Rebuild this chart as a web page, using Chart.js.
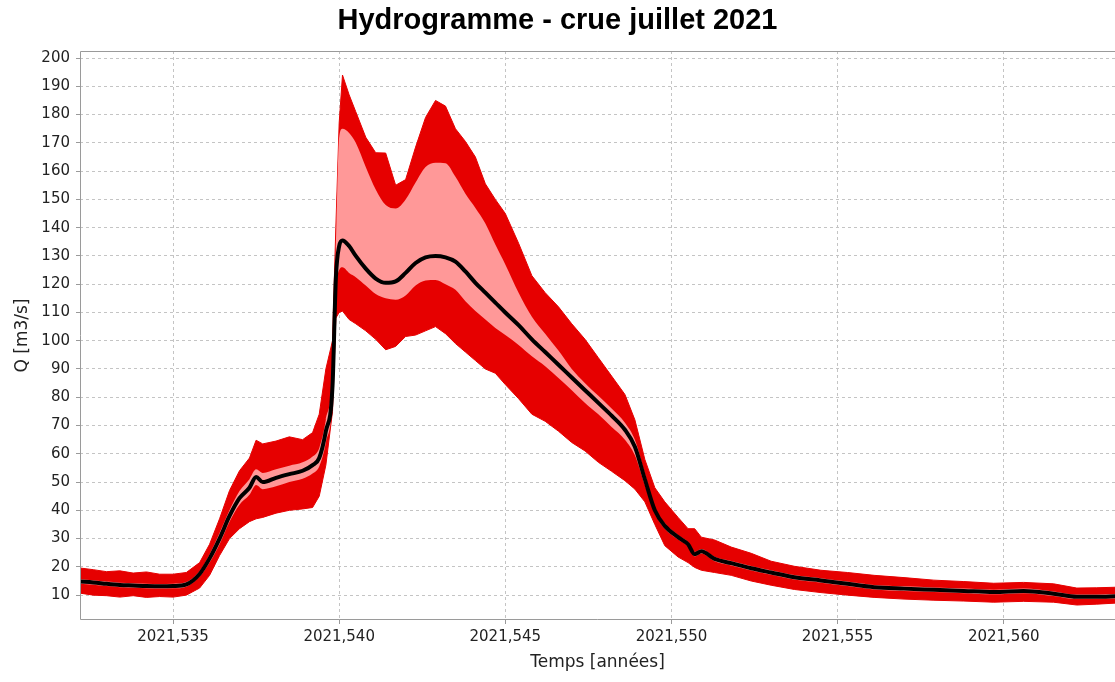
<!DOCTYPE html>
<html>
<head>
<meta charset="utf-8">
<script src="https://cdn.jsdelivr.net/npm/chart.js@4.4.1/dist/chart.umd.min.js"></script>
<style>
  html, body { margin: 0; padding: 0; background: #fff; }
  #wrap { width: 1115px; height: 682px; }
</style>
</head>
<body>
<div id="wrap"><canvas id="hydro" width="1115" height="682"></canvas></div>
<script>
// temps en années décimales
const temps = [
  2021.5322, 2021.5326, 2021.5330, 2021.5334, 2021.5338, 2021.5342, 2021.5346, 2021.5350, 2021.5354, 2021.5358,
  2021.5361, 2021.5364, 2021.5367, 2021.5370, 2021.5373, 2021.5375, 2021.5377, 2021.5381, 2021.5385, 2021.5389,
  2021.5392, 2021.5394, 2021.5396, 2021.5398, 2021.5399, 2021.5400, 2021.5401, 2021.5403, 2021.5405, 2021.5408,
  2021.5411, 2021.5414, 2021.5417, 2021.5420, 2021.5423, 2021.5426, 2021.5429, 2021.5432, 2021.5435, 2021.5438,
  2021.5441, 2021.5444, 2021.5447, 2021.5450, 2021.5454, 2021.5458, 2021.5462, 2021.5466, 2021.5470, 2021.5474,
  2021.5478, 2021.5482, 2021.5486, 2021.5489, 2021.5492, 2021.5495, 2021.5498, 2021.5502, 2021.5505, 2021.5507,
  2021.5509, 2021.5513, 2021.5518, 2021.5524, 2021.5530, 2021.5537, 2021.5545, 2021.5553, 2021.5561, 2021.5570,
  2021.5579, 2021.5588, 2021.5597, 2021.5606, 2021.5615, 2021.5622, 2021.5628, 2021.5634
];

// débit médian (ligne noire)
const qMediane = [
  14.8, 14.5, 14.0, 13.6, 13.4, 13.2, 13.1, 13.2, 13.8, 17.5,
  23.0, 30.0, 38.0, 44.3, 48.0, 51.8, 50.0, 51.5, 52.8, 54.0,
  56.0, 58.5, 68.0, 84.0, 122.0, 133.5, 135.5, 133.5, 130.0, 125.5,
  122.0, 120.5, 121.0, 124.0, 127.5, 129.5, 130.0, 129.5, 128.0, 124.5,
  120.5, 117.0, 113.5, 110.0, 105.5, 100.5, 96.0, 91.5, 87.0, 82.5,
  78.0, 73.5, 68.5, 62.5, 51.0, 40.0, 34.5, 30.5, 28.0, 24.5,
  25.5, 22.8, 21.3, 19.5, 18.0, 16.3, 15.2, 14.0, 12.8, 12.3,
  11.9, 11.5, 11.1, 11.5, 10.5, 9.4, 9.4, 9.6
];

// bande intérieure (rose)
const qIntHaut = [
  15.6, 15.3, 14.8, 14.4, 14.2, 14.0, 13.9, 14.0, 14.6, 18.5,
  24.5, 32.0, 40.0, 46.8, 51.0, 54.5, 53.2, 54.5, 55.8, 57.0,
  59.0, 62.0, 72.0, 90.0, 132.0, 172.0, 175.0, 173.5, 170.0, 161.5,
  153.5, 148.0, 146.8, 150.0, 156.0, 161.5, 163.0, 162.8, 158.0, 152.0,
  147.0, 141.5, 134.0, 127.0, 117.0, 108.5, 102.5, 96.5, 90.0, 85.0,
  80.5, 76.0, 71.0, 65.0, 53.0, 41.0, 35.5, 31.3, 28.8, 25.3,
  26.3, 23.6, 22.1, 20.3, 18.8, 17.1, 16.0, 14.8, 13.6, 13.1,
  12.7, 12.3, 11.9, 12.3, 11.3, 10.2, 10.2, 10.4
];
const qIntBas = [
  14.0, 13.7, 13.2, 12.8, 12.6, 12.4, 12.3, 12.4, 13.0, 16.5,
  21.5, 28.0, 36.0, 42.0, 45.5, 49.0, 47.5, 48.5, 50.0, 51.2,
  53.0, 55.5, 64.0, 80.0, 116.0, 125.0, 126.0, 124.0, 122.5, 119.5,
  116.5, 115.0, 114.5, 116.0, 119.5, 121.3, 121.5, 120.0, 118.0, 114.0,
  110.5, 107.5, 104.5, 102.0, 98.5, 94.5, 91.0, 86.8, 82.5, 78.0,
  74.0, 69.5, 65.0, 59.5, 49.0, 39.0, 33.5, 29.7, 27.2, 23.7,
  24.7, 22.0, 20.5, 18.7, 17.2, 15.5, 14.4, 13.2, 12.0, 11.5,
  11.1, 10.7, 10.3, 10.7, 9.7, 8.6, 8.6, 8.8
];

// bande extérieure (rouge)
const qExtHaut = [
  19.6, 19.0, 18.3, 18.6, 17.8, 18.2, 17.4, 17.4, 18.0, 21.5,
  28.0, 37.0, 47.0, 54.0, 58.5, 64.8, 63.5, 64.5, 66.0, 65.0,
  67.5, 74.0, 90.0, 100.0, 140.0, 177.0, 194.0, 187.0, 181.0, 172.0,
  166.5, 166.4, 155.0, 157.0, 168.5, 179.0, 185.0, 183.0, 175.0, 170.5,
  165.0, 155.5, 150.0, 145.0, 134.5, 123.0, 117.0, 112.0, 106.0, 100.5,
  94.0, 87.5, 81.0, 72.0, 58.0, 48.0, 43.0, 37.5, 33.5, 33.5,
  30.5, 29.5, 27.0, 24.8, 22.0, 20.2, 18.8, 18.0, 17.0, 16.2,
  15.3, 14.8, 14.2, 14.5, 14.0, 12.5, 12.6, 12.8
];
const qExtBas = [
  10.7, 10.0, 9.8, 9.3, 9.8, 9.2, 9.5, 9.3, 10.0, 12.5,
  17.0, 24.0, 30.0, 33.5, 36.0, 37.0, 37.5, 39.0, 40.0, 40.5,
  41.0, 45.0, 56.0, 75.0, 108.0, 110.0, 110.5, 107.5, 106.0, 103.5,
  100.5, 96.8, 98.0, 101.5, 102.0, 103.5, 105.0, 102.5, 99.0, 96.0,
  93.0, 90.0, 88.5, 84.5, 79.5, 74.0, 71.5, 68.0, 64.0, 61.0,
  57.0, 53.8, 50.5, 47.5, 43.0, 35.0, 27.5, 23.5, 21.5, 19.8,
  18.8, 18.0, 17.0, 15.0, 13.5, 12.0, 10.9, 10.0, 9.2, 8.6,
  8.2, 7.9, 7.5, 7.8, 7.5, 6.5, 6.8, 7.2
];

const xTicks = [2021.535, 2021.540, 2021.545, 2021.550, 2021.555, 2021.560];
const yTicks = [10, 20, 30, 40, 50, 60, 70, 80, 90, 100, 110, 120, 130, 140, 150, 160, 170, 180, 190, 200];

const ROUGE = '#e60000';
const ROSE = '#ff9898';
const police = "'DejaVu Sans', 'Liberation Sans', sans-serif";

function points(serie) {
  return temps.map((t, i) => ({ x: t, y: serie[i] }));
}

// cadre du graphique (haut, gauche, bas)
const cadre = {
  id: 'cadre',
  afterDraw(chart) {
    const { ctx, chartArea: a } = chart;
    ctx.save();
    ctx.strokeStyle = '#9a9a9a';
    ctx.lineWidth = 1;
    ctx.beginPath();
    ctx.moveTo(a.right, a.top + 0.5);
    ctx.lineTo(a.left + 0.5, a.top + 0.5);
    ctx.lineTo(a.left + 0.5, a.bottom - 0.5);
    ctx.lineTo(a.right, a.bottom - 0.5);
    ctx.stroke();
    ctx.restore();
  }
};

new Chart(document.getElementById('hydro'), {
  type: 'line',
  data: {
    datasets: [
      {
        label: 'médiane',
        data: points(qMediane),
        borderColor: '#000',
        borderWidth: 4,
        pointRadius: 0,
        cubicInterpolationMode: 'monotone',
        fill: false
      },
      {
        label: 'int haut',
        data: points(qIntHaut),
        borderColor: ROSE,
        borderWidth: 0,
        backgroundColor: ROSE,
        pointRadius: 0,
        cubicInterpolationMode: 'monotone',
        fill: '+1'
      },
      {
        label: 'int bas',
        data: points(qIntBas),
        borderColor: ROSE,
        borderWidth: 0,
        pointRadius: 0,
        cubicInterpolationMode: 'monotone',
        fill: false
      },
      {
        label: 'ext haut',
        data: points(qExtHaut),
        borderColor: ROUGE,
        borderWidth: 1,
        backgroundColor: ROUGE,
        pointRadius: 0,
        tension: 0,
        fill: '+1'
      },
      {
        label: 'ext bas',
        data: points(qExtBas),
        borderColor: ROUGE,
        borderWidth: 1,
        pointRadius: 0,
        tension: 0,
        fill: false
      }
    ]
  },
  options: {
    responsive: false,
    animation: false,
    layout: { padding: 0 },
    plugins: {
      legend: { display: false },
      tooltip: { enabled: false },
      title: {
        display: true,
        text: 'Hydrogramme - crue juillet 2021',
        color: '#000',
        font: { family: "'Liberation Sans', Arial, sans-serif", size: 29, weight: 'bold' },
        padding: { top: 4, bottom: 12.2 }
      }
    },
    scales: {
      x: {
        type: 'linear',
        min: 2021.5322,
        max: 2021.56335,
        afterBuildTicks(scale) { scale.ticks = xTicks.map(v => ({ value: v })); },
        afterFit(scale) { scale.height = 62; },
        ticks: {
          autoSkip: false,
          maxRotation: 0,
          padding: 4,
          color: '#222',
          font: { family: police, size: 15 },
          callback: v => v.toFixed(3).replace('.', ',')
        },
        grid: { color: '#c4c4c4', tickLength: 4, tickColor: '#9a9a9a' },
        border: { display: false, dash: [3, 3] },
        title: {
          display: true,
          text: 'Temps [années]',
          color: '#222',
          font: { family: police, size: 17 },
          padding: { top: 0, bottom: 9 }
        }
      },
      y: {
        type: 'linear',
        min: 1.2,
        max: 202.5,
        afterBuildTicks(scale) { scale.ticks = yTicks.map(v => ({ value: v })); },
        afterFit(scale) { scale.width = 80; },
        ticks: {
          padding: 6,
          color: '#222',
          font: { family: police, size: 15 }
        },
        grid: { color: '#c4c4c4', tickLength: 4, tickColor: '#9a9a9a' },
        border: { display: false, dash: [3, 3] },
        title: {
          display: true,
          text: 'Q [m3/s]',
          color: '#222',
          font: { family: police, size: 17 },
          padding: { top: 12, bottom: 0 }
        }
      }
    }
  },
  plugins: [cadre]
});
</script>
</body>
</html>
